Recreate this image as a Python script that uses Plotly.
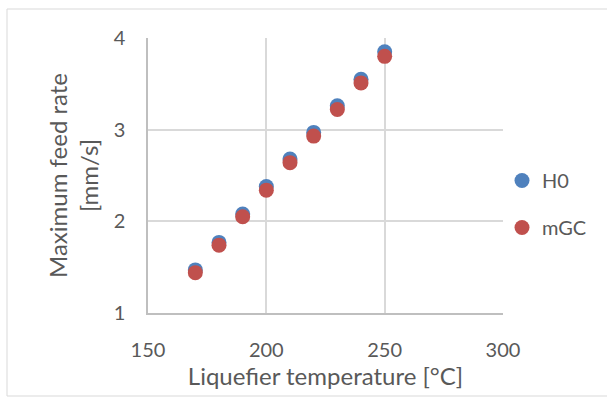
import plotly.graph_objects as go

temps = [170, 180, 190, 200, 210, 220, 230, 240, 250]
h0 = [1.47, 1.77, 2.08, 2.38, 2.68, 2.97, 3.26, 3.55, 3.85]
mgc = [1.44, 1.74, 2.05, 2.34, 2.64, 2.93, 3.22, 3.51, 3.80]

FONT = "Lato"
TXT = "#595959"

fig = go.Figure()
fig.add_trace(go.Scatter(x=temps, y=h0, mode="markers", name="H0", legendgroup="a",
                         marker=dict(size=15, color="#4F81BD", line=dict(width=0))))
fig.add_trace(go.Scatter(x=temps, y=mgc, mode="markers", name="mGC", legendgroup="b",
                         marker=dict(size=15, color="#C0504D", line=dict(width=0))))

L, R, T, B = 148, 104, 38, 84
W, H = 607, 397
pw = W - L - R
ph = H - T - B

fig.add_shape(type="rect", xref="paper", yref="paper",
              x0=(7 - L) / pw, x1=(630 - L) / pw,
              y0=(H - B - 396) / ph, y1=(H - B - 9) / ph,
              line=dict(color="#D9D9D9", width=1), fillcolor="rgba(0,0,0,0)", layer="below")

fig.update_layout(
    width=W, height=H,
    margin=dict(l=L, r=R, t=T, b=B, pad=0, autoexpand=False),
    paper_bgcolor="white", plot_bgcolor="white",
    font=dict(family=FONT, color=TXT, size=20),
    showlegend=True,
    legend=dict(xref="container", yref="container", x=502 / W, y=1 - 204 / H,
                xanchor="left", yanchor="middle",
                font=dict(size=20, color=TXT), traceorder="grouped",
                tracegroupgap=18, itemsizing="trace", bgcolor="rgba(0,0,0,0)"),
    xaxis=dict(range=[150, 300], tickvals=[150, 200, 250, 300], showgrid=True,
               gridcolor="#D9D9D9", gridwidth=1.5, showline=True, linecolor="#BFBFBF",
               linewidth=1.5, zeroline=False, ticks="", ticklabelstandoff=18,
               tickfont=dict(size=20, color=TXT),
               title=dict(text="Liquefier temperature [°C]", standoff=8,
                          font=dict(size=24, color=TXT))),
    yaxis=dict(range=[1, 4], tickvals=[1, 2, 3, 4], showgrid=True,
               gridcolor="#D9D9D9", gridwidth=1.5, showline=True, linecolor="#BFBFBF",
               linewidth=1.5, zeroline=False, ticks="", ticklabelstandoff=17,
               tickfont=dict(size=20, color=TXT),
               title=dict(text="Maximum feed rate<br>[mm/s]", standoff=8,
                          font=dict(size=24, color=TXT))),
)

fig.write_html("out.html")
